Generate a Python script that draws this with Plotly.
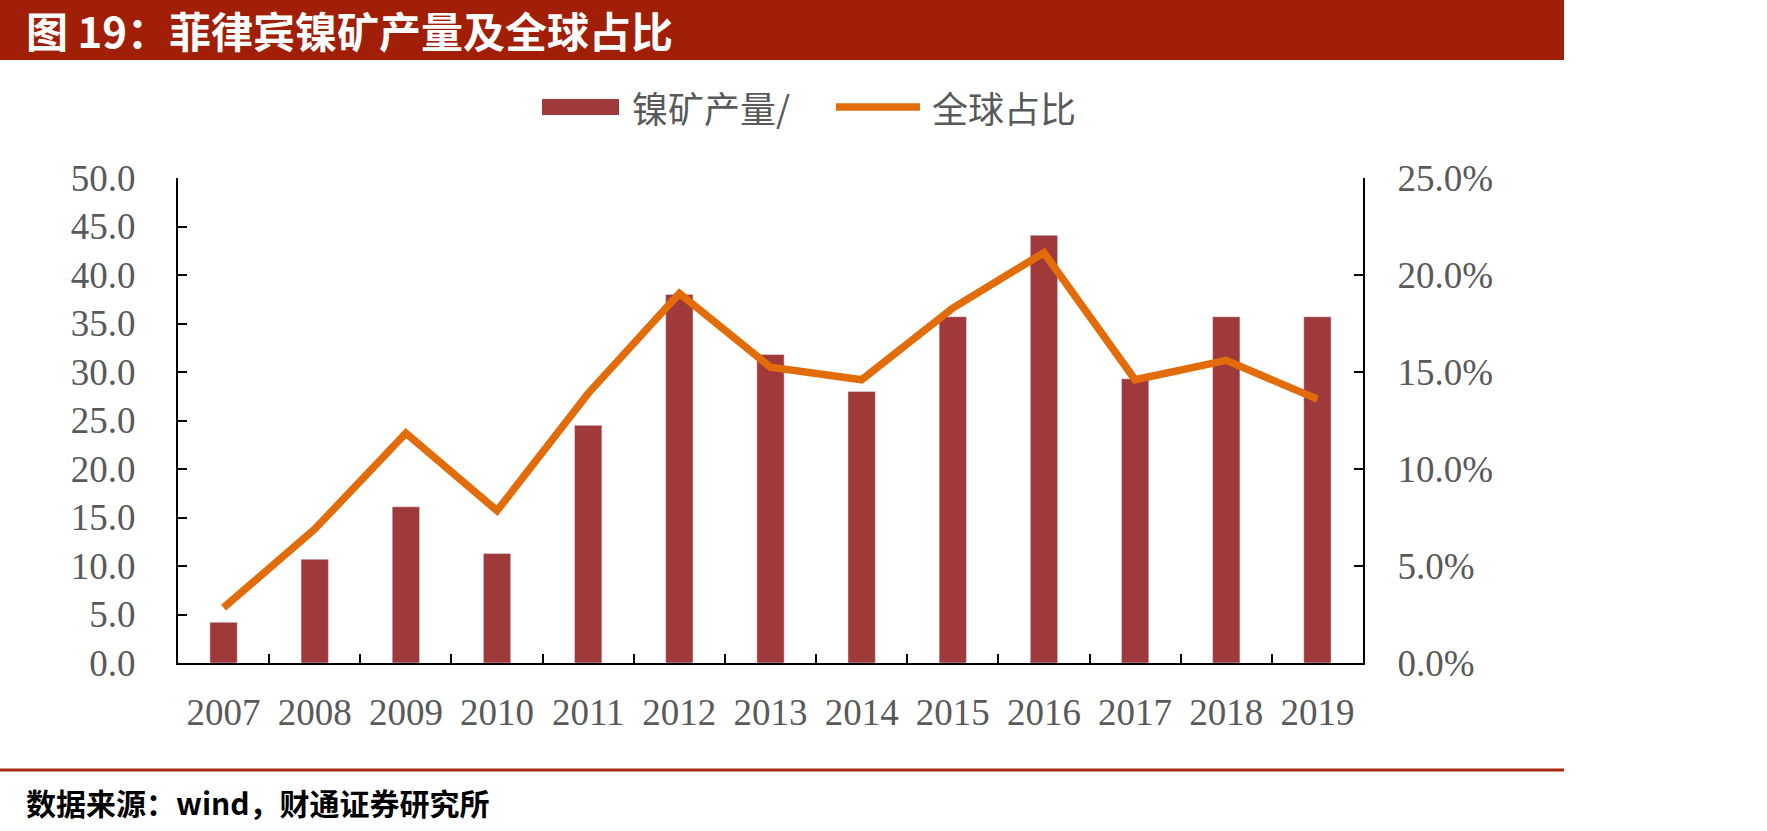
import plotly.graph_objects as go

years = ["2007", "2008", "2009", "2010", "2011", "2012", "2013",
         "2014", "2015", "2016", "2017", "2018", "2019"]
output = [4.2, 10.7, 16.1, 11.3, 24.5, 38.0, 31.8, 28.0, 35.7, 44.1, 29.3, 35.7, 35.7]
share = [2.85, 6.9, 11.85, 7.85, 13.9, 19.05, 15.25, 14.6, 18.3, 21.15, 14.6, 15.6, 13.6]

left_ticks = [0, 5, 10, 15, 20, 25, 30, 35, 40, 45, 50]
right_ticks = [0, 5, 10, 15, 20, 25]

W, H = 1767, 831
L, R, T, B = 178, 1363, 178, 663

def px(x):
    return (x - L) / (R - L)

def py(y):
    return (B - y) / (B - T)

BAR = "#A0393A"
LINE = "#E36C0A"
BAND = "#A11E07"
GREY = "#595959"
SERIF = "Liberation Serif, Times New Roman, serif"
CJK = "Noto Sans CJK SC"

fig = go.Figure()
fig.add_trace(go.Bar(x=years, y=output, marker_color=BAR, width=0.3,
                     name="镍矿产量/", yaxis="y", showlegend=False))
fig.add_trace(go.Scatter(x=years, y=share, mode="lines", name="全球占比",
                         line=dict(color=LINE, width=7.5), yaxis="y2",
                         showlegend=False))

axis_common = dict(showline=True, linecolor="black", linewidth=2,
                   ticks="inside", ticklen=9, tickwidth=2, tickcolor="black",
                   showgrid=False, zeroline=False,
                   tickfont=dict(family=SERIF, size=37, color=GREY))

fig.update_layout(
    width=W, height=H,
    margin=dict(l=L, r=W - R, t=T, b=H - B, pad=0),
    paper_bgcolor="white", plot_bgcolor="white",
    xaxis=dict(type="category", tickson="boundaries", ticklabelstandoff=16,
               **axis_common),
    yaxis=dict(range=[0, 50], tickvals=left_ticks,
               ticktext=[f"{v:.1f}" for v in left_ticks],
               ticklabelstandoff=33, **axis_common),
    yaxis2=dict(range=[0, 25], tickvals=right_ticks,
                ticktext=[f"{v:.1f}%" for v in right_ticks],
                overlaying="y", side="right", ticklabelstandoff=25,
                **axis_common),
    bargap=0.7,
)

shapes = [
    # title band
    dict(type="rect", xref="paper", yref="paper", x0=px(0), x1=px(1564),
         y0=py(60), y1=py(0), fillcolor=BAND, line=dict(width=0), layer="below"),
    # bottom rule
    dict(type="line", xref="paper", yref="paper", x0=px(0), x1=px(1564),
         y0=py(770), y1=py(770), line=dict(color="#A82A12", width=3)),
    # legend swatches
    dict(type="rect", xref="paper", yref="paper", x0=px(542), x1=px(619),
         y0=py(115), y1=py(99), fillcolor=BAR, line=dict(width=0)),
    dict(type="line", xref="paper", yref="paper", x0=px(836), x1=px(920),
         y0=py(107), y1=py(107), line=dict(color=LINE, width=7.5)),
]
fig.update_layout(shapes=shapes)

annotations = [
    dict(text="<b>图 19：菲律宾镍矿产量及全球占比</b>", xref="paper", yref="paper",
         x=px(24), y=py(29), xanchor="left", yanchor="middle", showarrow=False,
         font=dict(family=CJK, size=42, color="white")),
    dict(text="镍矿产量/", xref="paper", yref="paper", x=px(630), y=py(107),
         xanchor="left", yanchor="middle", showarrow=False,
         font=dict(family=CJK, size=36, color=GREY)),
    dict(text="全球占比", xref="paper", yref="paper", x=px(930), y=py(107),
         xanchor="left", yanchor="middle", showarrow=False,
         font=dict(family=CJK, size=36, color=GREY)),
    dict(text="<b>数据来源：wind，财通证券研究所</b>", xref="paper", yref="paper",
         x=px(24), y=py(802), xanchor="left", yanchor="middle", showarrow=False,
         font=dict(family=CJK, size=30, color="black")),
]
fig.update_layout(annotations=annotations)

fig.write_html("out.html")
